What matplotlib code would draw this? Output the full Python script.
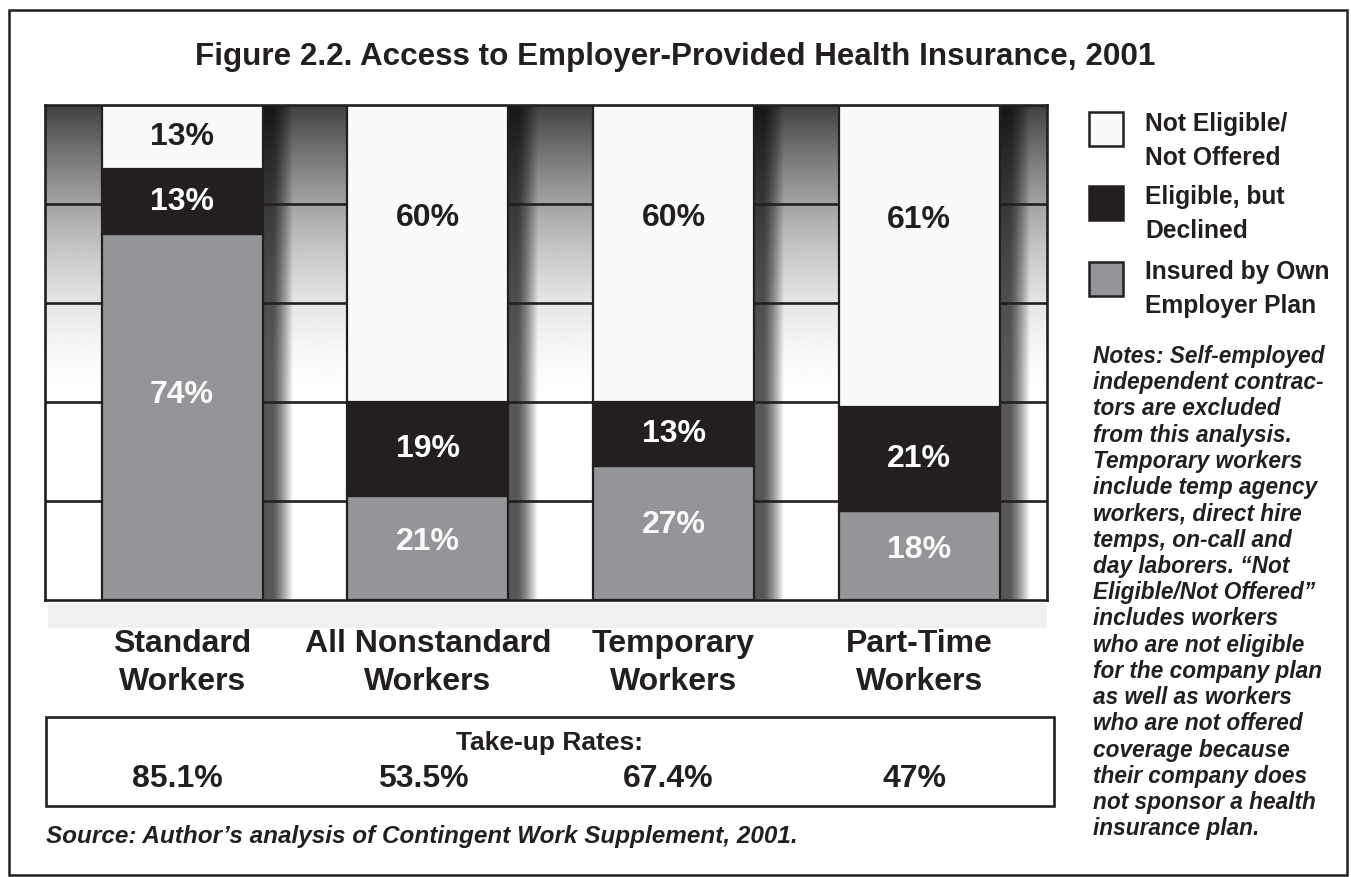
import matplotlib
matplotlib.use("Agg")
import matplotlib.pyplot as plt
import matplotlib.transforms as mtransforms
from matplotlib.patches import Rectangle
import numpy as np

# data
categories = ["Standard\nWorkers", "All Nonstandard\nWorkers", "Temporary\nWorkers", "Part-Time\nWorkers"]
insured = [74, 21, 27, 18]
declined = [13, 19, 13, 21]
not_eligible = [13, 60, 60, 61]
take_up = ["85.1%", "53.5%", "67.4%", "47%"]
legend_names = ["Not Eligible/\nNot Offered", "Eligible, but\nDeclined", "Insured by Own\nEmployer Plan"]

WHITE = "#fafafa"
BLACK = "#231f20"
GRAY = "#939598"
SANS = ["Liberation Sans", "DejaVu Sans"]

W, H = 1351, 877
fig = plt.figure(figsize=(W / 100, H / 100), dpi=100)


def fx(x):
    return x / W


def fy(y):
    return 1 - y / H


# outer frame
fig.patches.append(Rectangle((fx(9), fy(875)), fx(1347) - fx(9), fy(10) - fy(875),
                             transform=fig.transFigure, fill=False, ec=BLACK, lw=1.8))

fig.text(fx(675), fy(57), "Figure 2.2. Access to Employer-Provided Health Insurance, 2001",
         ha="center", va="center", fontsize=22.6, fontweight="bold", color=BLACK, family=SANS)

# floor under the plot
fig.patches.append(Rectangle((fx(48), fy(628)), fx(1047) - fx(48), fy(603) - fy(628),
                             transform=fig.transFigure, color="#f1f1f1", lw=0, zorder=0))

ax = fig.add_axes([fx(45), fy(600), fx(1047) - fx(45), fy(105) - fy(600)])
x = np.arange(len(categories))
xmin, xmax = -0.558, 3.52
ax.set_xlim(xmin, xmax)
ax.set_ylim(0, 100)
barw = 0.655

# background vertical gradient, dark at top
yy = np.linspace(0, 100, 400)
t = np.clip((yy - 40) / 60, 0, 1)
g = 1 - 0.75 * t ** 1.8
ax.imshow(np.repeat(g[:, None], 2, axis=1), extent=(xmin, xmax, 0, 100), origin="lower",
          cmap="gray", vmin=0, vmax=1, aspect="auto", zorder=0, interpolation="bilinear")

# shaded strips right of each bar
tt = np.linspace(0, 1, 120)
alpha = 0.66 * (1 - np.clip((tt - 0.22) / 0.48, 0, 1) ** 1.3)
shade = np.zeros((2, len(tt), 4))
shade[..., 3] = alpha
for xi in x:
    x0 = xi + barw / 2
    ax.imshow(shade, extent=(x0, x0 + 0.171, 0, 100), origin="lower", aspect="auto",
              zorder=1, interpolation="bilinear")

for gy in [20, 40, 60, 80]:
    ax.axhline(gy, color=BLACK, lw=1.9, zorder=2)

ins = np.array(insured)
dec = np.array(declined)
ne = np.array(not_eligible)
ax.bar(x, ins, width=barw, color=GRAY, edgecolor=BLACK, lw=1.6, zorder=3)
ax.bar(x, dec, bottom=ins, width=barw, color=BLACK, edgecolor=BLACK, lw=1.6, zorder=3)
ax.bar(x, ne, bottom=ins + dec, width=barw, color=WHITE, edgecolor=BLACK, lw=1.6, zorder=3)

lab = dict(ha="center", va="center", fontsize=23, fontweight="bold", family=SANS, zorder=4)
for i in x:
    ax.text(i, ins[i] / 2 + 0.06 * ins[i], f"{ins[i]}%", color=WHITE, **lab)
    ax.text(i, ins[i] + dec[i] / 2, f"{dec[i]}%", color="white", **lab)
    top0 = ins[i] + dec[i]
    ny = top0 + ne[i] / 2 if ne[i] < 30 else top0 + 0.62 * ne[i]
    ax.text(i, ny, f"{ne[i]}%", color=BLACK, **lab)

for s in ax.spines.values():
    s.set_linewidth(1.9)
    s.set_color(BLACK)
    s.set_zorder(5)
ax.set_xticks([])
ax.set_yticks([])

# category names under bars
bt = mtransforms.blended_transform_factory(ax.transData, ax.transAxes)
for i, c in enumerate(categories):
    ax.text(i, -0.058, c, transform=bt, ha="center", va="top", fontsize=23, fontweight="bold",
            color=BLACK, family=SANS, linespacing=1.36, clip_on=False)

# legend drawn by hand
boxes = [(112, WHITE), (186, BLACK), (262, GRAY)]
text_y = [141, 214, 289]
for (by, col), ty, name in zip(boxes, text_y, legend_names):
    fig.patches.append(Rectangle((fx(1089), fy(by + 34)), fx(34), 34 / H, transform=fig.transFigure,
                                 fc=col, ec=BLACK, lw=1.8))
    fig.text(fx(1145), fy(ty), name, ha="left", va="center", fontsize=17.7, fontweight="bold",
             color=BLACK, family=SANS, linespacing=1.53)

notes = ("Notes: Self-employed\nindependent contrac-\ntors are excluded\nfrom this analysis.\n"
         "Temporary workers\ninclude temp agency\nworkers, direct hire\ntemps, on-call and\n"
         "day laborers. \u201cNot\nEligible/Not Offered\u201d\nincludes workers\n"
         "who are not eligible\nfor the company plan\nas well as workers\nwho are not offered\n"
         "coverage because\ntheir company does\nnot sponsor a health\ninsurance plan.")
fig.text(fx(1093), fy(345), notes, ha="left", va="top", fontsize=16.3, fontweight="bold",
         style="italic", color=BLACK, family=SANS, linespacing=1.18)

# take-up rates box
fig.patches.append(Rectangle((fx(46), fy(806)), fx(1054) - fx(46), fy(717) - fy(806),
                             transform=fig.transFigure, fill=False, ec=BLACK, lw=1.9))
fig.text(fx(549), fy(743), "Take-up Rates:", ha="center", va="center", fontsize=19,
         fontweight="bold", color=BLACK, family=SANS)
tb = mtransforms.blended_transform_factory(ax.transData, fig.transFigure)
for i, r in enumerate(take_up):
    fig.text(i - 0.02, fy(779), r, transform=tb, ha="center", va="center", fontsize=23,
             fontweight="bold", color=BLACK, family=SANS)

fig.text(fx(46), fy(836), "Source: Author\u2019s analysis of Contingent Work Supplement, 2001.",
         ha="left", va="center", fontsize=17.5, fontweight="bold", style="italic",
         color=BLACK, family=SANS)

fig.savefig("out.png", dpi=100)
